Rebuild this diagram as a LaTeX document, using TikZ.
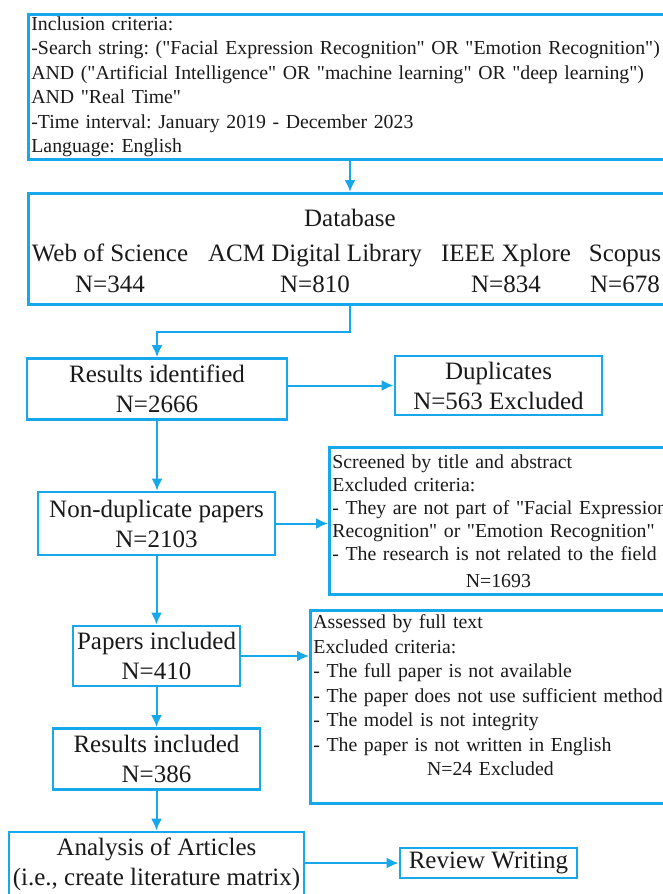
\documentclass[tikz,border=0pt]{standalone}
\usepackage{fontspec}
\setmainfont{Liberation Serif}[Ligatures=TeXOff]
\usepackage{xcolor}
\definecolor{flowBlue}{RGB}{22,168,235}
\definecolor{flowText}{RGB}{25,25,25}
\usetikzlibrary{arrows.meta, positioning}
\frenchspacing

\begin{document}
\begin{tikzpicture}[x=1pt, y=-1pt,
	every node/.style={inner sep=0pt, text=flowText},
	bigbox/.style={draw=flowBlue, line width=2.8pt, align=center, font=\fontsize{25}{30}\selectfont},
	smallbox/.style={draw=flowBlue, line width=2.8pt, align=left, anchor=north west, inner xsep=3pt, font=\fontsize{19.8}{24.5}\selectfont},
	dbtext/.style={align=center, font=\fontsize{25}{31}\selectfont},
	flow/.style={draw=flowBlue, line width=2pt, -{Latex[length=12pt, width=11pt]}}]
	\useasboundingbox (0,0) rectangle (663,894);
	% search and databases
	\node[smallbox, text width=690pt, minimum height=145pt] (incl) at (27,13) {Inclusion criteria:\\
		-Search string: ("Facial Expression Recognition" OR "Emotion Recognition")\\
		AND ("Artificial Intelligence" OR "machine learning" OR "deep learning")\\
		AND "Real Time"\\
		-Time interval: January 2019 - December 2023\\
		Language: English};
	\node[draw=flowBlue, line width=2.8pt, anchor=north west, minimum width=680pt, minimum height=111pt] (db) at (27,192) {};
	\node[dbtext] (dbtitle) at (350,218) {Database};
	\node[dbtext] (wos) at (110,268.5) {Web of Science\\N=344};
	\node[dbtext] (acm) at (315,268.5) {ACM Digital Library\\N=810};
	\node[dbtext] (ieee) at (506,268.5) {IEEE Xplore\\N=834};
	\node[dbtext] (scop) at (625,268.5) {Scopus\\N=678};

	% screening
	\node[bigbox, minimum width=260pt, minimum height=61pt] (res) at (157,389) {Results identified\\N=2666};
	\node[bigbox, minimum width=207pt, minimum height=59pt] (dup) at (498.5,385.5) {Duplicates\\N=563 Excluded};
	\node[bigbox, minimum width=237pt, minimum height=63pt] (nondup) at (156.5,523.5) {Non-duplicate papers\\N=2103};
	\node[smallbox, text width=332pt, minimum height=147pt, font=\fontsize{19.8}{23}\selectfont] (scr) at (328,446) {Screened by title and abstract\\
		Excluded criteria:\\
		\mbox{- They are not part of "Facial Expression}\\
		\mbox{Recognition" or "Emotion Recognition"}\\
		\mbox{- The research is not related to the field}\\[4pt]
		\hspace*{\fill}N=1693\hspace*{\fill}};
	\node[bigbox, minimum width=167pt, minimum height=60pt] (pap) at (156.5,656) {Papers included\\N=410};
	\node[smallbox, text width=354pt, inner ysep=4.5pt, text depth=170pt] (ass) at (309,609) {Assessed by full text\\
		Excluded criteria:\\
		- The full paper is not available\\
		\mbox{- The paper does not use sufficient methods}\\
		- The model is not integrity\\
		\mbox{- The paper is not written in English}\\
		\hspace*{\fill}N=24 Excluded\hspace*{\fill}};
	\node[bigbox, minimum width=207pt, minimum height=61pt] (ri) at (156.5,759) {Results included\\N=386};
	\node[bigbox, minimum width=295pt, minimum height=65pt] (ana) at (156.5,864.5) {Analysis of Articles\\(i.e., create literature matrix)};
	\node[bigbox, minimum width=177pt, minimum height=30pt] (rw) at (488.5,863) {Review Writing};

	\draw[flow] (incl.south -| dbtitle) -- (dbtitle |- db.north);
	\draw[flow] (db.south -| dbtitle) -- ++(0,26) -| (res.north);
	\draw[flow] (res.east |- dup) -- (dup.west);
	\draw[flow] (res.south) -- (res.south |- nondup.north);
	\draw[flow] (nondup.east) -- (nondup.east -| scr.west);
	\draw[flow] (nondup.south) -- (pap.north);
	\draw[flow] (pap.east) -- (pap.east -| ass.west);
	\draw[flow] (pap.south) -- (ri.north);
	\draw[flow] (ri.south) -- (ana.north);
	\draw[flow] (ana.east |- rw) -- (rw.west);
\end{tikzpicture}
\end{document}
